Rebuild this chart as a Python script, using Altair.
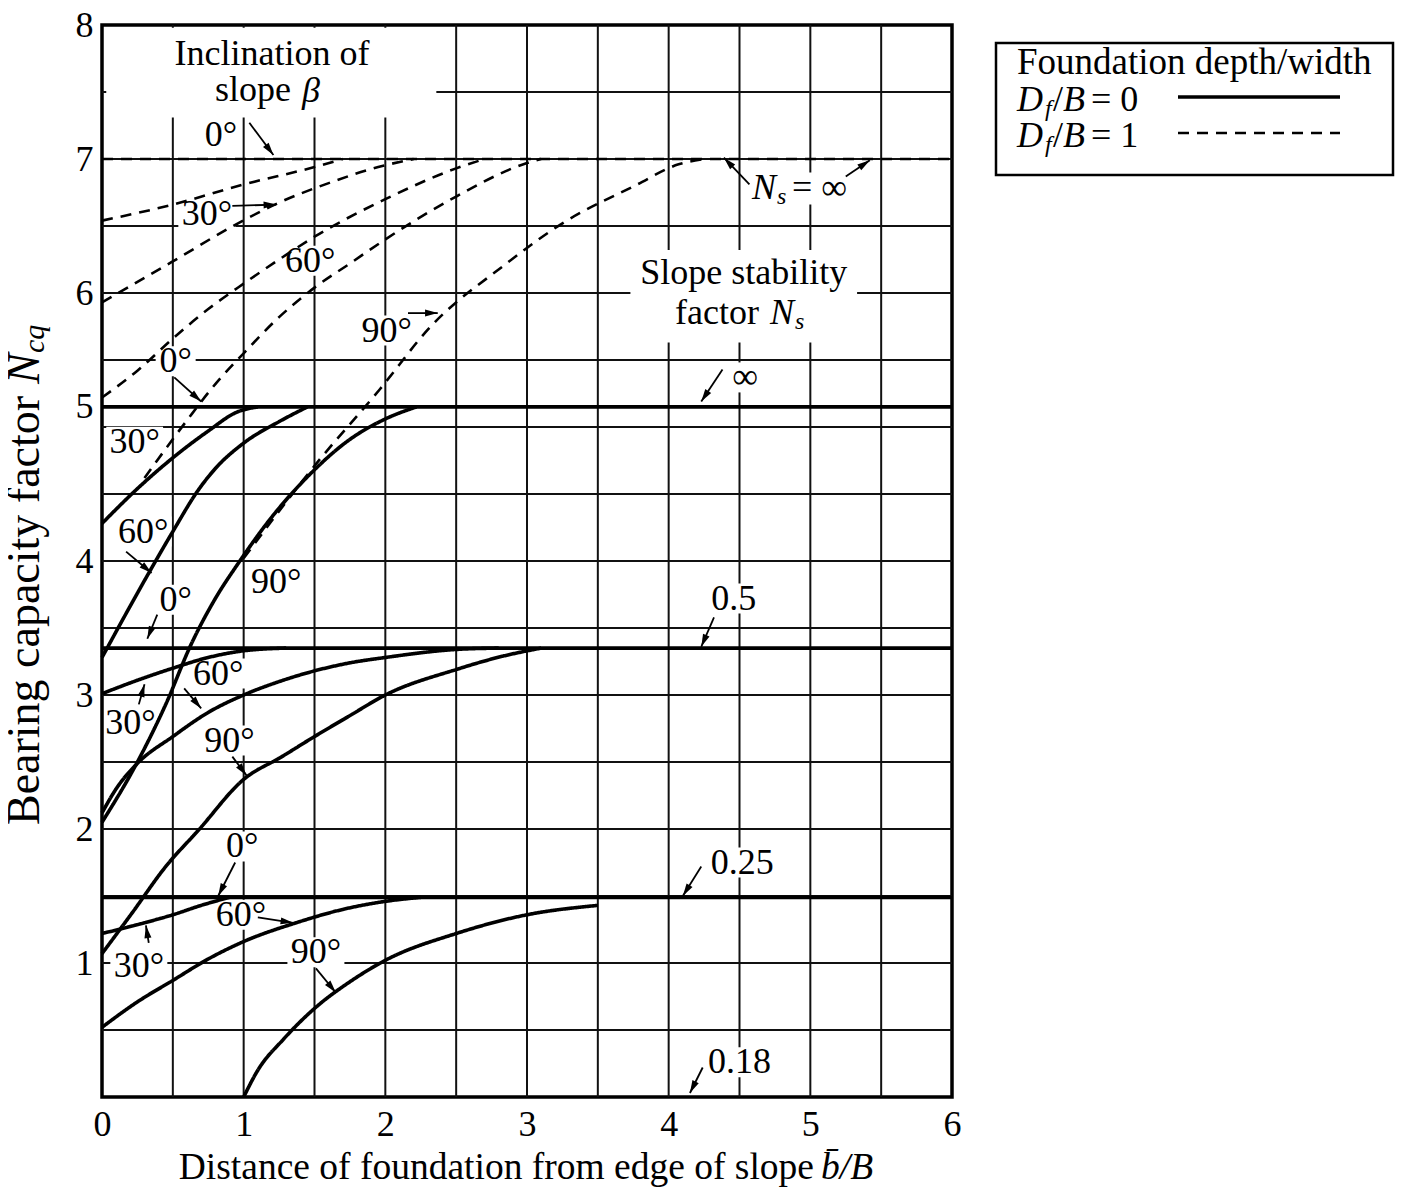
import math
import altair as alt
import pandas as pd

# ---------------- values ----------------
X_DOMAIN = [0, 6]
Y_DOMAIN = [0, 8]
x_tick_values = [0, 1, 2, 3, 4, 5, 6]
y_tick_values = [1, 2, 3, 4, 5.15, 6, 7, 8]      # "5" is printed beside the 5.14 plateau
grid_x = [0.5, 1, 1.5, 2, 2.5, 3, 3.5, 4, 4.5, 5, 5.5]
grid_y = [0.5, 1, 1.5, 2, 2.5, 3, 3.5, 4, 4.5, 5, 5.5, 6, 6.5, 7, 7.5]

# Df/B = 0 (solid) -- slope stability factor Ns = infinity
inf_s_b0_x = [0, 6]
inf_s_b0_y = [5.15, 5.15]
inf_s_b30_x = [0, 0.25, 0.5, 0.75, 0.95, 1.1]
inf_s_b30_y = [4.28, 4.54, 4.77, 4.97, 5.11, 5.15]
inf_s_b60_x = [0, 0.33, 0.5, 0.68, 0.8, 1.0, 1.25, 1.45]
inf_s_b60_y = [3.28, 3.91, 4.22, 4.53, 4.69, 4.88, 5.04, 5.15]
inf_s_b90_x = [0, 0.25, 0.45, 0.63, 0.8, 0.96, 1.2, 1.48, 1.74, 2.0, 2.22]
inf_s_b90_y = [2.05, 2.5, 2.93, 3.38, 3.72, 3.98, 4.33, 4.66, 4.9, 5.06, 5.15]

# Df/B = 0 (solid) -- Ns = 0.5
h_s_b0_x = [0, 6]
h_s_b0_y = [3.35, 3.35]
h_s_b30_x = [0, 0.25, 0.5, 0.75, 1.0, 1.3]
h_s_b30_y = [3.01, 3.11, 3.2, 3.28, 3.33, 3.35]
h_s_b60_x = [0, 0.1, 0.25, 0.5, 0.75, 1.0, 1.25, 1.5, 1.75, 2.0, 2.5, 2.8]
h_s_b60_y = [2.12, 2.3, 2.49, 2.69, 2.87, 3.0, 3.1, 3.18, 3.24, 3.28, 3.34, 3.35]
h_s_b90_x = [0, 0.21, 0.45, 0.68, 1.0, 1.27, 1.5, 1.74, 2.0, 2.5, 2.83, 3.1]
h_s_b90_y = [1.07, 1.37, 1.72, 1.99, 2.37, 2.54, 2.69, 2.84, 3.0, 3.19, 3.29, 3.35]

# Df/B = 0 (solid) -- Ns = 0.25
q_s_b0_x = [0, 6]
q_s_b0_y = [1.49, 1.49]
q_s_b30_x = [0, 0.3, 0.5, 0.7, 0.9]
q_s_b30_y = [1.22, 1.3, 1.36, 1.43, 1.49]
q_s_b60_x = [0, 0.25, 0.5, 0.75, 1.0, 1.37, 1.7, 2.0, 2.25]
q_s_b60_y = [0.52, 0.71, 0.87, 1.03, 1.16, 1.3, 1.4, 1.46, 1.49]
q_s_b90_x = [1.0, 1.1, 1.28, 1.51, 1.75, 2.0, 2.5, 3.0, 3.5]
q_s_b90_y = [0.0, 0.2, 0.43, 0.67, 0.86, 1.02, 1.22, 1.36, 1.43]

# Df/B = 1 (dashed) -- Ns = infinity
inf_d_b0_x = [0, 6]
inf_d_b0_y = [7.0, 7.0]
inf_d_a_x = [0, 0.5, 1.0, 1.5, 1.7]
inf_d_a_y = [6.54, 6.66, 6.81, 6.94, 7.0]
inf_d_b_x = [0, 0.49, 0.96, 1.22, 1.6, 1.95, 2.2]
inf_d_b_y = [5.93, 6.23, 6.52, 6.66, 6.82, 6.94, 7.0]
inf_d_c_x = [0, 0.25, 0.5, 0.75, 1.0, 1.25, 1.5, 2.0, 2.5, 2.7]
inf_d_c_y = [5.22, 5.42, 5.66, 5.88, 6.07, 6.25, 6.42, 6.7, 6.93, 7.0]
inf_d_d_x = [0.3, 0.6, 0.8, 1.0, 1.25, 1.5, 1.75, 2.0, 2.5, 3.0, 3.1]
inf_d_d_y = [4.62, 5.05, 5.32, 5.55, 5.82, 6.04, 6.22, 6.4, 6.72, 6.97, 7.0]
inf_d_e_x = [1.0, 1.5, 1.96, 2.32, 2.83, 3.25, 3.76, 4.07, 4.25]
inf_d_e_y = [4.02, 4.71, 5.28, 5.75, 6.2, 6.52, 6.8, 6.96, 7.0]

curves = [
    ("Df0 Ns=inf b=0", "0", inf_s_b0_x, inf_s_b0_y),
    ("Df0 Ns=inf b=30", "0", inf_s_b30_x, inf_s_b30_y),
    ("Df0 Ns=inf b=60", "0", inf_s_b60_x, inf_s_b60_y),
    ("Df0 Ns=inf b=90", "0", inf_s_b90_x, inf_s_b90_y),
    ("Df0 Ns=0.5 b=0", "0", h_s_b0_x, h_s_b0_y),
    ("Df0 Ns=0.5 b=30", "0", h_s_b30_x, h_s_b30_y),
    ("Df0 Ns=0.5 b=60", "0", h_s_b60_x, h_s_b60_y),
    ("Df0 Ns=0.5 b=90", "0", h_s_b90_x, h_s_b90_y),
    ("Df0 Ns=0.25 b=0", "0", q_s_b0_x, q_s_b0_y),
    ("Df0 Ns=0.25 b=30", "0", q_s_b30_x, q_s_b30_y),
    ("Df0 Ns=0.25 b=60", "0", q_s_b60_x, q_s_b60_y),
    ("Df0 Ns=0.25 b=90", "0", q_s_b90_x, q_s_b90_y),
    ("Df1 Ns=inf b=0", "1", inf_d_b0_x, inf_d_b0_y),
    ("Df1 Ns=inf a", "1", inf_d_a_x, inf_d_a_y),
    ("Df1 Ns=inf b", "1", inf_d_b_x, inf_d_b_y),
    ("Df1 Ns=inf c", "1", inf_d_c_x, inf_d_c_y),
    ("Df1 Ns=inf d", "1", inf_d_d_x, inf_d_d_y),
    ("Df1 Ns=inf e", "1", inf_d_e_x, inf_d_e_y),
]

# in-plot labels (text, x, y) in data units
plain_labels = [
    ("Inclination of", 1.2, 7.78),
    ("0°", 0.84, 7.18), ("30°", 0.74, 6.59), ("60°", 1.47, 6.24), ("90°", 2.01, 5.72),
    ("0°", 0.52, 5.49), ("30°", 0.23, 4.89), ("60°", 0.29, 4.22), ("90°", 1.23, 3.84),
    ("0°", 0.52, 3.71), ("60°", 0.82, 3.16), ("30°", 0.2, 2.79), ("90°", 0.9, 2.66),
    ("0°", 0.99, 1.87), ("60°", 0.98, 1.36), ("30°", 0.26, 0.98), ("90°", 1.51, 1.08),
    ("Slope stability", 4.53, 6.15),
    ("∞", 4.54, 5.37), ("0.5", 4.46, 3.72), ("0.25", 4.52, 1.75), ("0.18", 4.5, 0.26),
]
# arrows (x1, y1) -> (x2, y2) in data units
arrows = [
    (1.04, 7.27, 1.21, 7.03), (0.92, 6.65, 1.23, 6.66), (2.16, 5.85, 2.37, 5.85),
    (0.51, 5.37, 0.70, 5.19), (0.17, 4.07, 0.35, 3.91), (0.39, 3.60, 0.32, 3.42),
    (0.58, 3.05, 0.70, 2.90), (0.26, 2.93, 0.30, 3.08), (0.92, 2.54, 1.02, 2.40),
    (0.94, 1.75, 0.82, 1.50), (0.33, 1.15, 0.31, 1.28), (1.10, 1.34, 1.35, 1.30),
    (1.51, 0.96, 1.65, 0.78),
    (4.57, 6.81, 4.39, 7.01), (5.25, 6.87, 5.42, 6.99),
    (4.38, 5.43, 4.23, 5.19), (4.32, 3.58, 4.23, 3.36),
    (4.23, 1.72, 4.10, 1.50), (4.24, 0.22, 4.15, 0.03),
]

# ---------------- layout ----------------
W, H = 850, 1072
SX = W / (X_DOMAIN[1] - X_DOMAIN[0])
SY = H / (Y_DOMAIN[1] - Y_DOMAIN[0])
FONT = "Liberation Serif"
FS = 36
SUB = 24


def px_x(px):  # pixel offset from plot left -> data x
    return px / SX


def px_y(py):  # pixel offset from plot top -> data y
    return Y_DOMAIN[1] - py / SY


XS = alt.Scale(domain=X_DOMAIN, nice=False, zero=False)
YS = alt.Scale(domain=Y_DOMAIN, nice=False, zero=False)
AX = alt.Axis(values=x_tick_values, title=None, grid=False, ticks=False, domain=False,
              labelFont=FONT, labelFontSize=FS, labelColor="black", labelPadding=10,
              labelFlush=False, labelOverlap=False)
AY = alt.Axis(values=y_tick_values, title=None, grid=False, ticks=False, domain=False,
              labelFont=FONT, labelFontSize=FS, labelColor="black", labelPadding=9,
              labelFlush=False, labelOverlap=False, labelExpr="round(datum.value)")


def X(field):
    return alt.X(field, scale=XS, axis=AX)


def Y(field):
    return alt.Y(field, scale=YS, axis=AY)


rows = []
for cid, dfb, xs, ys in curves:
    for i, (xv, yv) in enumerate(zip(xs, ys)):
        rows.append({"curve": cid, "dfb": dfb, "order": i, "x": xv, "y": yv})
curve_df = pd.DataFrame(rows)

lines = alt.Chart(curve_df).mark_line(color="black", interpolate="monotone").encode(
    x=X("x:Q"), y=Y("y:Q"),
    detail="curve:N",
    order="order:Q",
    strokeDash=alt.StrokeDash("dfb:N", scale=alt.Scale(domain=["0", "1"], range=[[1, 0], [11, 8]]), legend=None),
    strokeWidth=alt.StrokeWidth("dfb:N", scale=alt.Scale(domain=["0", "1"], range=[3.6, 2.6]), legend=None),
)

gx = alt.Chart(pd.DataFrame({"g": grid_x})).mark_rule(color="#111111", strokeWidth=2).encode(x=X("g:Q"))
gy = alt.Chart(pd.DataFrame({"g": grid_y})).mark_rule(color="#111111", strokeWidth=2).encode(y=Y("g:Q"))

# white masks behind labels (grid is interrupted there in the reference)
masks = [
    {"x": 0.03, "x2": 2.36, "y": 7.31, "y2": 7.98},
    {"x": 3.73, "x2": 5.33, "y": 5.63, "y2": 6.32},
    {"x": 4.60, "x2": 5.36, "y": 6.66, "y2": 6.9},
]
for t, xv, yv in plain_labels:
    if len(t) <= 4:
        w = (17 * len(t) + 6) / SX
        h = 30 / SY
        masks.append({"x": max(0.03, xv - w / 2), "x2": xv + w / 2, "y": yv - h / 2, "y2": yv + h / 2})
mask_layer = alt.Chart(pd.DataFrame(masks)).mark_rect(color="white").encode(
    x=X("x:Q"), x2="x2:Q", y=Y("y:Q"), y2="y2:Q")

arrow_df = pd.DataFrame([{"x": a, "y": b, "x2": c, "y2": d,
                          "ang": math.degrees(math.atan2((c - a) * SX, (d - b) * SY)) % 360}
                         for a, b, c, d in arrows])
arrow_lines = alt.Chart(arrow_df).mark_rule(color="black", strokeWidth=1.8).encode(
    x=X("x:Q"), y=Y("y:Q"), x2="x2:Q", y2="y2:Q")
arrow_heads = alt.Chart(arrow_df).mark_point(
    shape="M0,0L-0.36,1.3L0.36,1.3Z", filled=True, color="black", size=380, opacity=1, strokeWidth=0
).encode(x=X("x2:Q"), y=Y("y2:Q"), angle=alt.Angle("ang:Q", scale=None))


def text_layer(items, style, align, angle=0):
    df = pd.DataFrame(items, columns=["text", "x", "y", "fs"])
    return alt.Chart(df).mark_text(font=FONT, fontStyle=style, align=align, baseline="middle",
                                   color="black", angle=angle).encode(
        x=X("x:Q"), y=Y("y:Q"), text="text:N", size=alt.Size("fs:Q", scale=None))


center_roman = [(t, xv, yv, FS) for t, xv, yv in plain_labels]

# composite labels with italic / subscript parts (positions in px from plot origin)
left_roman = []
left_italic = []


def piece(lst, text, px, py, fs=FS):
    lst.append((text, px_x(px), px_y(py), fs))


# "slope β"
piece(left_roman, "slope", 113, 65)
piece(left_italic, "β", 200, 66)
# "factor N_s"
piece(left_roman, "factor", 573, 288)
piece(left_italic, "N", 668, 288)
piece(left_italic, "s", 693, 297, SUB)
# "N_s = ∞"
piece(left_italic, "N", 650, 163)
piece(left_italic, "s", 675, 172, SUB)
piece(left_roman, "= ∞", 690, 163)

# legend (outside the plot, to the right)
piece(left_roman, "Foundation depth/width", 915, 38, 37)
for py, val in ((75, "0"), (111, "1")):
    piece(left_italic, "D", 915, py)
    piece(left_italic, "f", 943, py + 9, SUB)
    piece(left_roman, "/", 951, py)
    piece(left_italic, "B", 961, py)
    piece(left_roman, "= " + val, 989, py)

# x-axis title
XT = 37.5
xt_roman = [("Distance of foundation from edge of slope", px_x(712), px_y(1143), XT)]
piece(left_italic, "b\u0304/B", 719, 1143, XT)

# y-axis title (rotated, reads bottom to top)
YT = 46
YB = 800
yt_roman = [("Bearing capacity factor", px_x(-77), px_y(YB), YT)]
yt_italic = [("N", px_x(-77), px_y(YB - 441), YT), ("cq", px_x(-67), px_y(YB - 472), 30)]

legend_box = alt.Chart(pd.DataFrame([{"x": px_x(894), "x2": px_x(1291), "y": px_y(18), "y2": px_y(150)}])).mark_rect(
    fill="white", stroke="black", strokeWidth=2.5).encode(
    x=X("x:Q"), x2="x2:Q", y=Y("y:Q"), y2="y2:Q")
legend_solid = alt.Chart(pd.DataFrame([{"x": px_x(1076), "x2": px_x(1238), "y": px_y(72)}])).mark_rule(
    color="black", strokeWidth=3.6).encode(x=X("x:Q"), x2="x2:Q", y=Y("y:Q"))
legend_dash = alt.Chart(pd.DataFrame([{"x": px_x(1076), "x2": px_x(1238), "y": px_y(108)}])).mark_rule(
    color="black", strokeWidth=2.6, strokeDash=[11, 8]).encode(x=X("x:Q"), x2="x2:Q", y=Y("y:Q"))

chart = alt.layer(
    gx, gy, mask_layer, lines, arrow_lines, arrow_heads,
    legend_box, legend_solid, legend_dash,
    text_layer(center_roman, "normal", "center"),
    text_layer(left_roman, "normal", "left"),
    text_layer(left_italic, "italic", "left"),
    text_layer(xt_roman, "normal", "right"),
    text_layer(yt_roman, "normal", "left", 270),
    text_layer(yt_italic, "italic", "left", 270),
).properties(
    width=W, height=H,
    autosize=alt.AutoSizeParams(type="none"),
    padding={"left": 94, "top": 17, "right": 445, "bottom": 91},
    background="white",
).configure_view(stroke="black", strokeWidth=3.5)

chart.save("out.html", embed_options={"renderer": "svg", "actions": False})
